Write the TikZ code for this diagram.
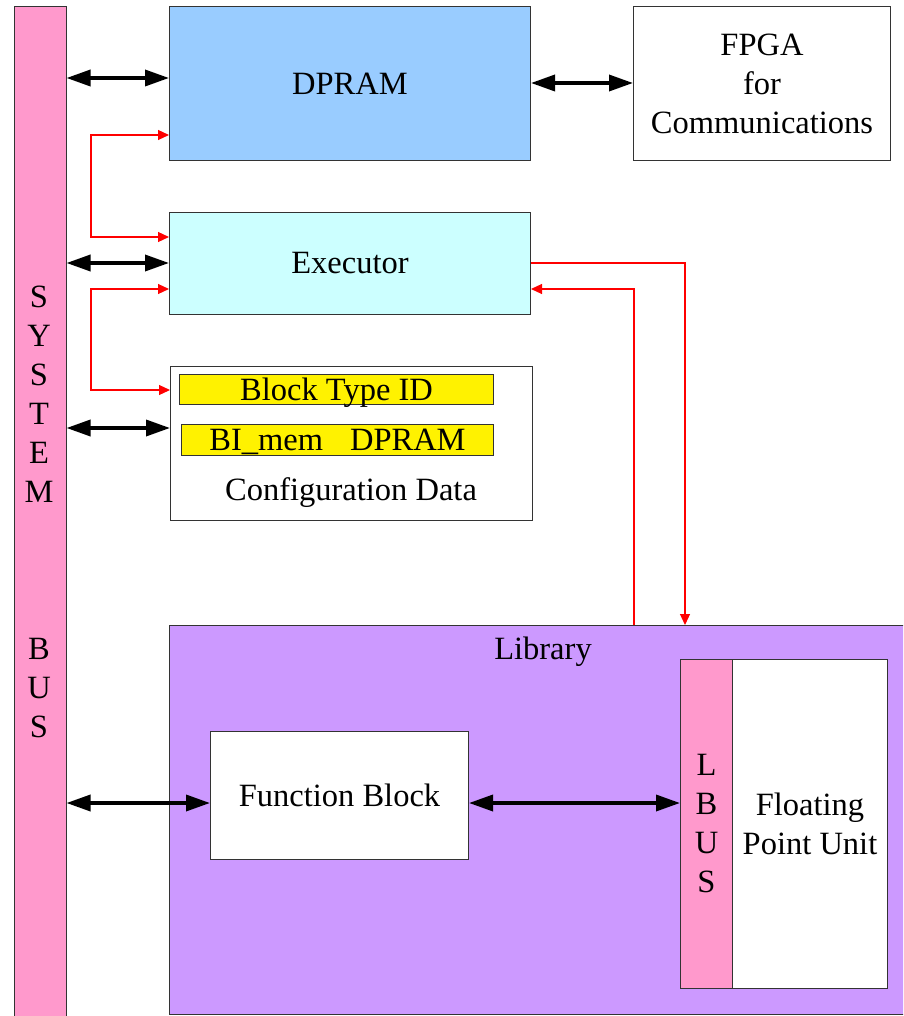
\documentclass[tikz,border=0pt]{standalone}
\usepackage{fontspec}
\setmainfont{Liberation Serif}
\usetikzlibrary{arrows.meta,calc}
\definecolor{buspink}{HTML}{FF99CC}
\definecolor{dpblue}{HTML}{99CCFF}
\definecolor{execcyan}{HTML}{CCFFFF}
\definecolor{libviolet}{HTML}{CC99FF}
\definecolor{edgegray}{HTML}{333333}
\begin{document}
\begin{tikzpicture}[x=1pt,y=-1pt,
  box/.style={draw=edgegray,line width=1pt,rectangle,inner sep=0pt,anchor=north west,
    font=\fontsize{32.5}{39}\selectfont,align=center},
  sz/.style 2 args={minimum width=#1pt,minimum height=#2pt},
  txt/.style={font=\fontsize{32.5}{39}\selectfont,align=center,inner sep=0pt},
  bidir/.style={line width=3.5pt,{Triangle[length=24pt,width=16pt]}-{Triangle[length=24pt,width=16pt]}},
  redline/.style={red,line width=1.2pt},
  rboth/.style={redline,{Triangle[length=11pt,width=10pt]}-{Triangle[length=11pt,width=10pt]}},
  rend/.style={redline,-{Triangle[length=11pt,width=10pt]}}]
\clip (0,0) rectangle (903,1016);
\fill[white] (0,0) rectangle (903,1016);
% boxes
\node[box,fill=buspink,sz={52}{1030}] (sysbus) at (13.5,6) {};
\node[txt] (sysbustext) at (39,512) {S\\Y\\S\\T\\E\\M\\[118pt]B\\U\\S};
\node[box,fill=libviolet,sz={745}{389}] (lib) at (169,625) {};
\node[txt] (libtext) at (543,652) {Library};
\node[box,fill=dpblue,sz={361}{154}] (dpram) at (169,6) {DPRAM};
\node[box,fill=white,sz={257}{154}] (fpga) at (633,6) {FPGA\\for\\Communications};
\node[box,fill=execcyan,sz={361}{102}] (exec) at (169,212) {Executor};
\node[box,fill=white,sz={362}{154}] (config) at (170,366) {};
\node[box,fill=yellow,sz={314}{30},text height=25pt,text depth=4pt] (btid) at (179,374) {Block Type ID};
\node[box,fill=yellow,sz={312}{31},text height=25pt,text depth=4pt] (bimem) at (181,424) {BI\_mem\hspace{27pt}DPRAM};
\node[txt] (configtext) at (351,493) {Configuration Data};
\node[box,fill=white,sz={258}{128}] (func) at (210,731) {Function Block};
\node[box,fill=buspink,sz={52}{329}] (lbus) at (680,659) {L\\B\\U\\S};
\node[box,fill=white,sz={155}{329}] (fpu) at (732,659) {Floating\\Point Unit};
% black bidirectional connectors
\draw[bidir] (sysbus.east |- 0,78) -- (dpram.west |- 0,78);
\draw[bidir] (dpram.east |- 0,83) -- (fpga.west |- 0,83);
\draw[bidir] (sysbus.east |- 0,263) -- (exec.west |- 0,263);
\draw[bidir] (sysbus.east |- 0,428) -- (config.west |- 0,428);
\draw[bidir] (sysbus.east |- 0,803) -- (func.west |- 0,803);
\draw[bidir] (func.east |- 0,803) -- (lbus.west |- 0,803);
% red connectors
\draw[rboth] (dpram.west |- 0,135) -- (91,135) -- (91,237) -- (exec.west |- 0,237);
\draw[rboth] (exec.west |- 0,289) -- (91,289) -- (91,390) -- (config.west |- 0,390);
\draw[rend] (exec.east |- 0,263) -- (685,263) -- (lib.north -| 685,0);
\draw[rend] (lib.north -| 634,0) -- (634,289) -- (exec.east |- 0,289);
\end{tikzpicture}
\end{document}
